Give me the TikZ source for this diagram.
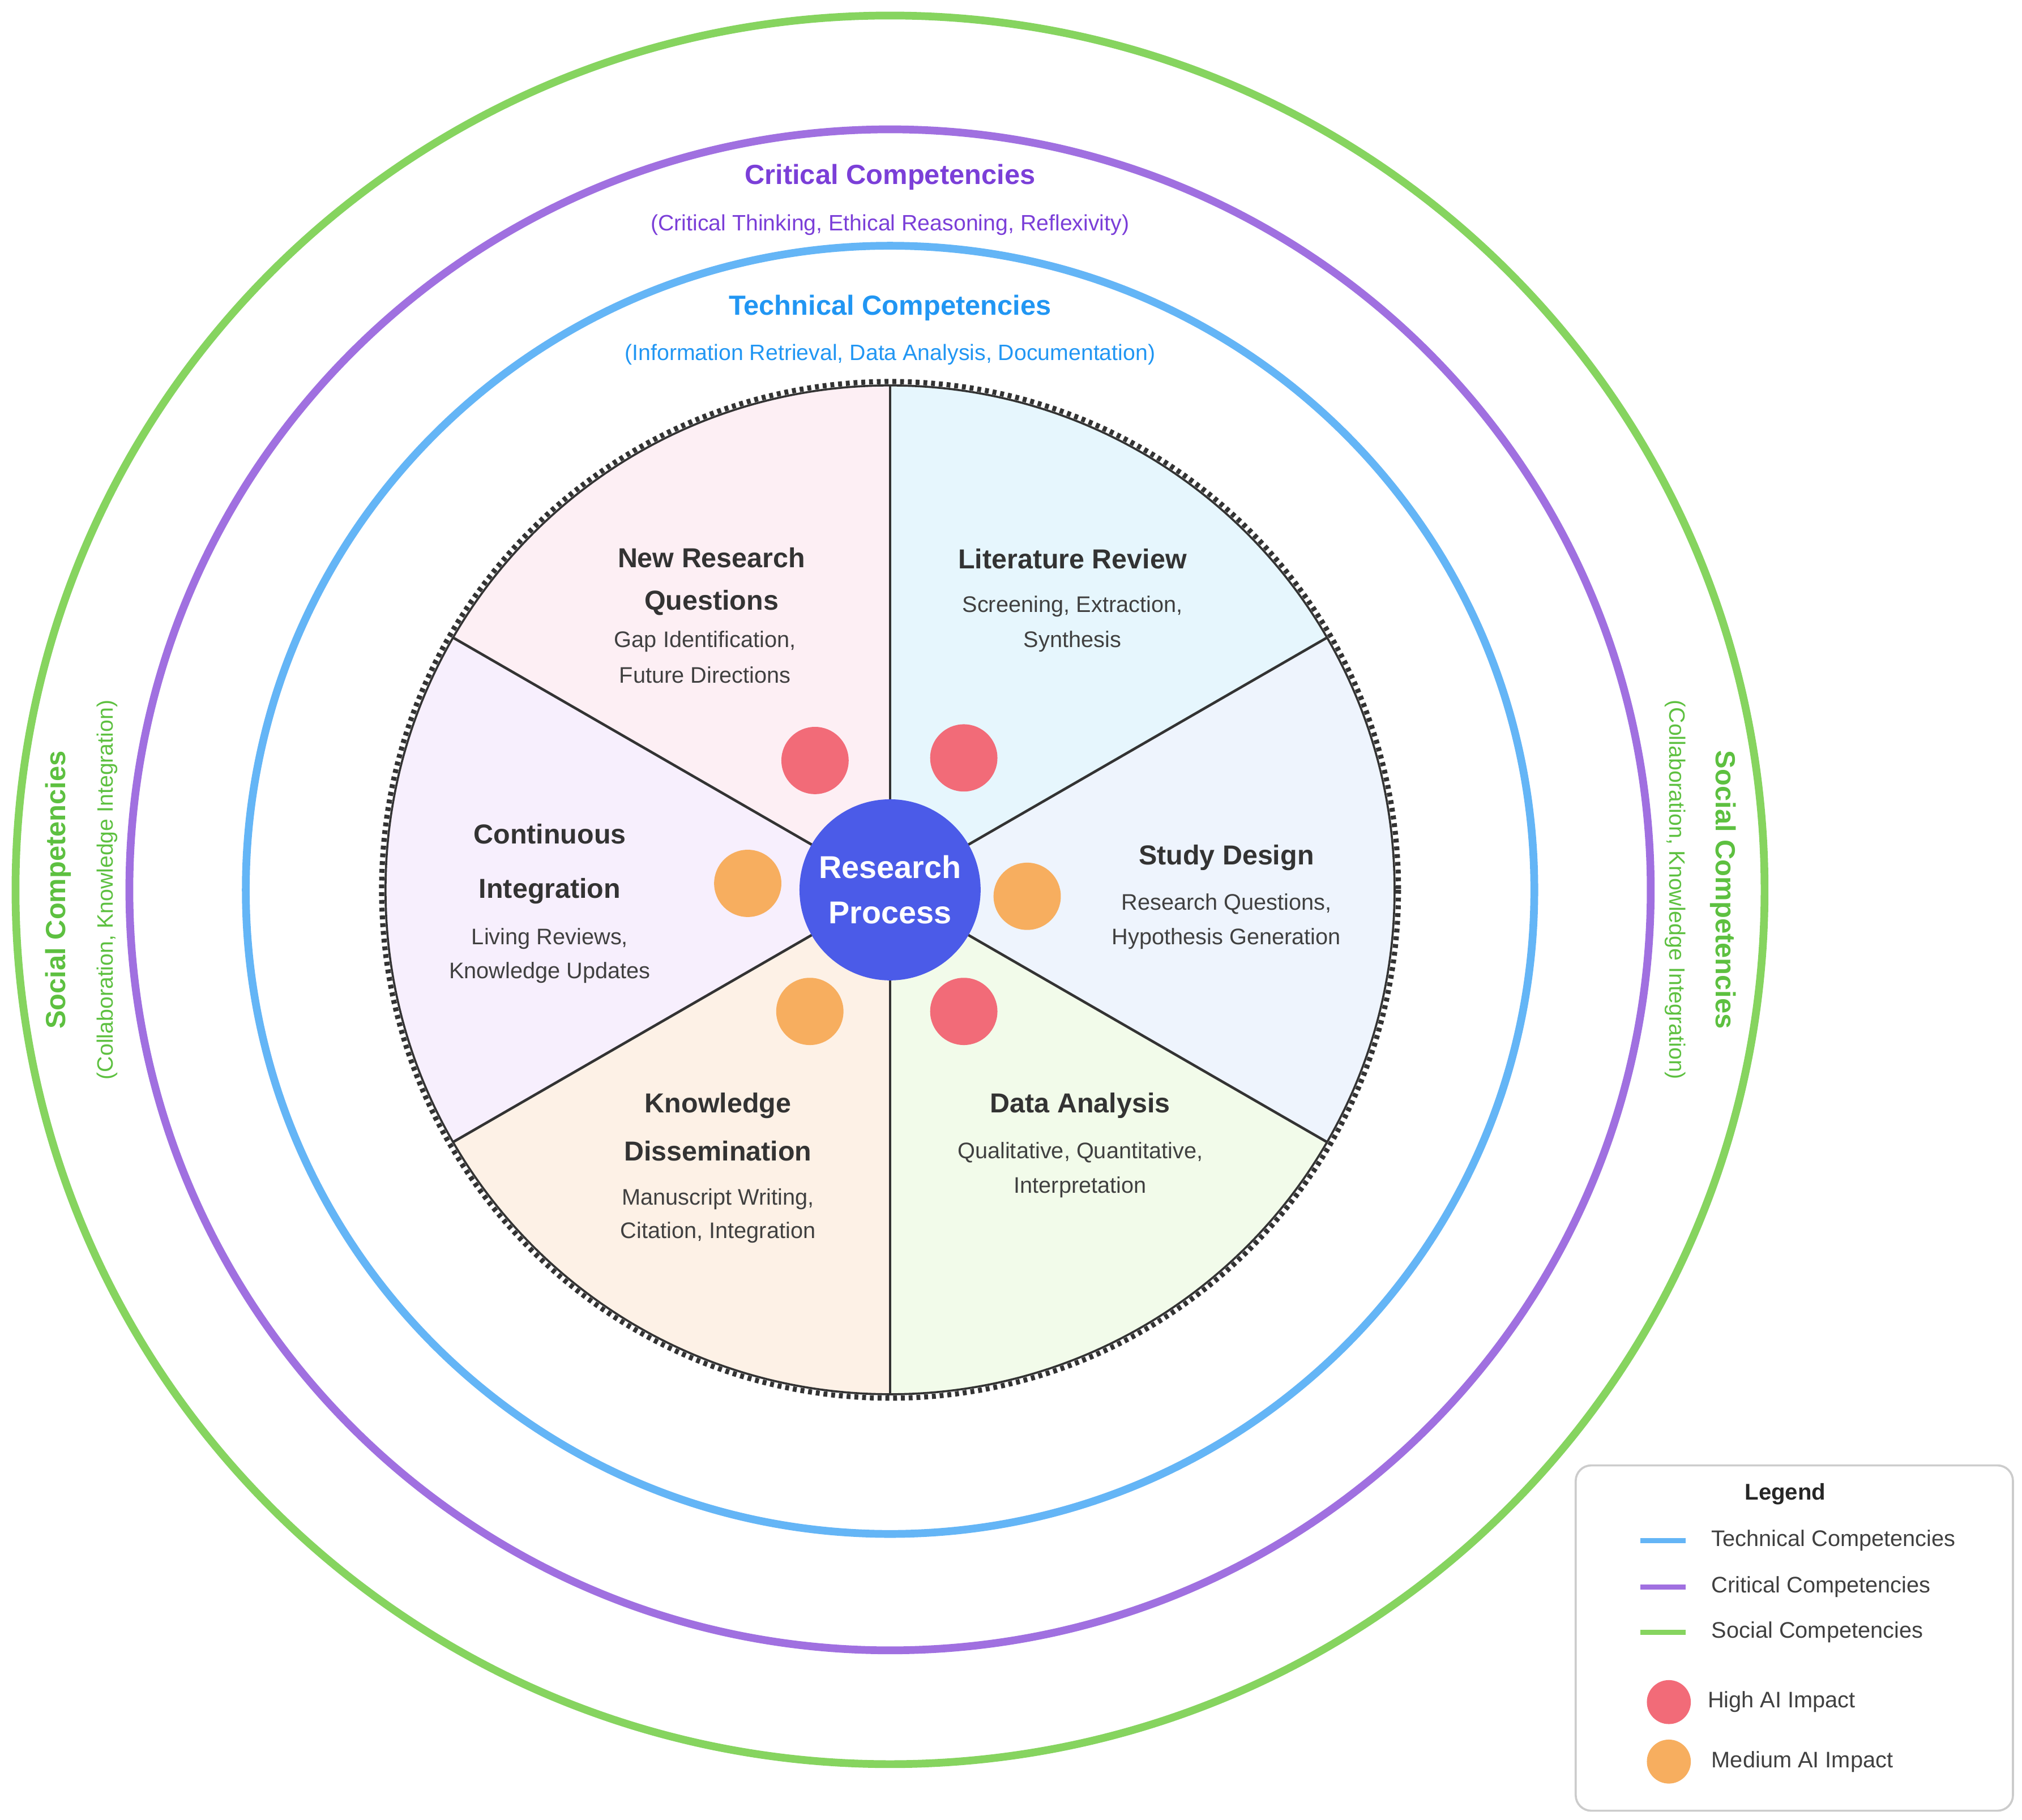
\documentclass[tikz,border=0pt]{standalone}
\usepackage{fontspec}
\setmainfont{Liberation Sans}
\begin{document}
\begin{tikzpicture}[x=0.5pt,y=-0.5pt,
  ring/.style={line width=3pt},
  ttl/.style={font=\bfseries\fontsize{10.6}{12}\selectfont, text=black!80},
  sub/.style={font=\fontsize{8.7}{10}\selectfont, text=black!75},
  big/.style={font=\bfseries\fontsize{10.7}{12}\selectfont},
  small/.style={font=\fontsize{8.6}{10}\selectfont},
  dot/.style={circle, minimum size=26pt, inner sep=0pt},
  leg/.style={font=\fontsize{8.7}{10}\selectfont, text=black!75, anchor=west}]
\definecolor{cblue}{HTML}{64B5F6}
\definecolor{cpurple}{HTML}{A070E0}
\definecolor{cgreen}{HTML}{86D45F}
\definecolor{tblue}{HTML}{2196F3}
\definecolor{tpurple}{HTML}{7B3FD8}
\definecolor{tgreen}{HTML}{5DC040}
\definecolor{hred}{HTML}{F26B78}
\definecolor{morange}{HTML}{F7AE5F}
\definecolor{core}{HTML}{4B5BE8}
\useasboundingbox (0,0) rectangle (1563,1407);
\coordinate (C) at (688,688);
% sectors (y axis points down, so angles are mirrored)
\fill[fill={rgb,255:red,230;green,246;blue,253}] (C) -- +(-90:390) arc[start angle=-90,end angle=-30,radius=390] -- cycle;
\fill[fill={rgb,255:red,238;green,244;blue,253}] (C) -- +(-30:390) arc[start angle=-30,end angle=30,radius=390] -- cycle;
\fill[fill={rgb,255:red,242;green,251;blue,234}] (C) -- +(30:390) arc[start angle=30,end angle=90,radius=390] -- cycle;
\fill[fill={rgb,255:red,253;green,241;blue,230}] (C) -- +(90:390) arc[start angle=90,end angle=150,radius=390] -- cycle;
\fill[fill={rgb,255:red,247;green,239;blue,253}] (C) -- +(150:390) arc[start angle=150,end angle=210,radius=390] -- cycle;
\fill[fill={rgb,255:red,253;green,239;blue,244}] (C) -- +(210:390) arc[start angle=210,end angle=270,radius=390] -- cycle;
\foreach \a in {30,90,150,210,270,330} \draw[line width=1pt, black!80] (C) -- +(\a:390);
\draw[line width=0.8pt, black!80] (C) circle[radius=390];
\draw[line width=2pt, black!80, dash pattern=on 1.5pt off 1.5pt] (C) circle[radius=393];
% rings
\draw[ring, cgreen] (C) circle[radius=676];
\draw[ring, cpurple] (C) circle[radius=588];
\draw[ring, cblue] (C) circle[radius=498];
% ring labels
\node[big, text=tpurple] (crit) at (688,137) {Critical Competencies};
\node[small, text=tpurple] (critsub) at (688,174) {(Critical Thinking, Ethical Reasoning, Reflexivity)};
\node[big, text=tblue] (tech) at (688,238) {Technical Competencies};
\node[small, text=tblue] (techsub) at (688,274) {(Information Retrieval, Data Analysis, Documentation)};
\node[big, text=tgreen, rotate=90] (socL) at (45,688) {Social Competencies};
\node[small, text=tgreen, rotate=90] (socLs) at (83,688) {(Collaboration, Knowledge Integration)};
\node[big, text=tgreen, rotate=-90] (socR) at (1332,688) {Social Competencies};
\node[small, text=tgreen, rotate=-90] (socRs) at (1295,688) {(Collaboration, Knowledge Integration)};
% sector texts
\node[ttl] (nrq1) at (550,431) {New Research};
\node[ttl] (nrq2) at (550,466) {Questions};
\node[sub] (nrq3) at (545,496) {Gap Identification,};
\node[sub] (nrq4) at (545,522) {Future Directions};
\node[ttl] (lr1) at (829,432) {Literature Review};
\node[sub] (lr2) at (829,469) {Screening, Extraction,};
\node[sub] (lr3) at (829,496) {Synthesis};
\node[ttl] (sd1) at (948,663) {Study Design};
\node[sub] (sd2) at (948,699) {Research Questions,};
\node[sub] (sd3) at (948,726) {Hypothesis Generation};
\node[ttl] (ci1) at (425,645) {Continuous};
\node[ttl] (ci2) at (425,689) {Integration};
\node[sub] (ci3) at (425,726) {Living Reviews,};
\node[sub] (ci4) at (425,752) {Knowledge Updates};
\node[ttl] (kd1) at (555,855) {Knowledge};
\node[ttl] (kd2) at (555,890) {Dissemination};
\node[sub] (kd3) at (555,927) {Manuscript Writing,};
\node[sub] (kd4) at (555,953) {Citation, Integration};
\node[ttl] (da1) at (835,855) {Data Analysis};
\node[sub] (da2) at (835,891) {Qualitative, Quantitative,};
\node[sub] (da3) at (835,918) {Interpretation};
% impact dots
\node[dot, fill=hred] (d1) at (630,588) {};
\node[dot, fill=hred] (d2) at (745,586) {};
\node[dot, fill=hred] (d3) at (745,782) {};
\node[dot, fill=morange] (d4) at (578,683) {};
\node[dot, fill=morange] (d5) at (794,693) {};
\node[dot, fill=morange] (d6) at (626,782) {};
% core
\node[circle, fill=core, minimum size=70pt, inner sep=0pt, text=white, align=center,
  font=\bfseries\fontsize{12.2}{17.5}\selectfont] (core) at (C) {Research\\Process};
% legend
\draw[black!20, line width=0.8pt, fill=white, rounded corners=6pt] (1218,1133) rectangle (1556,1400);
\node[font=\bfseries\fontsize{8.8}{10}\selectfont, text=black!85] (lt) at (1380,1155) {Legend};
\coordinate (l1a) at (1268,1191); \coordinate (l1b) at (1303,1191);
\coordinate (l2a) at (1268,1227); \coordinate (l2b) at (1303,1227);
\coordinate (l3a) at (1268,1262); \coordinate (l3b) at (1303,1262);
\draw[cblue, line width=2pt] (l1a) -- (l1b);
\draw[cpurple, line width=2pt] (l2a) -- (l2b);
\draw[cgreen, line width=2pt] (l3a) -- (l3b);
\node[leg] (lt1) at (1316,1191) {Technical Competencies};
\node[leg] (lt2) at (1316,1227) {Critical Competencies};
\node[leg] (lt3) at (1316,1262) {Social Competencies};
\node[circle, fill=hred, minimum size=17pt, inner sep=0pt] (ld1) at (1290,1316) {};
\node[circle, fill=morange, minimum size=17pt, inner sep=0pt] (ld2) at (1290,1362) {};
\node[leg] (lt4) at (1313,1316) {High AI Impact};
\node[leg] (lt5) at (1316,1362) {Medium AI Impact};
\end{tikzpicture}
\end{document}
